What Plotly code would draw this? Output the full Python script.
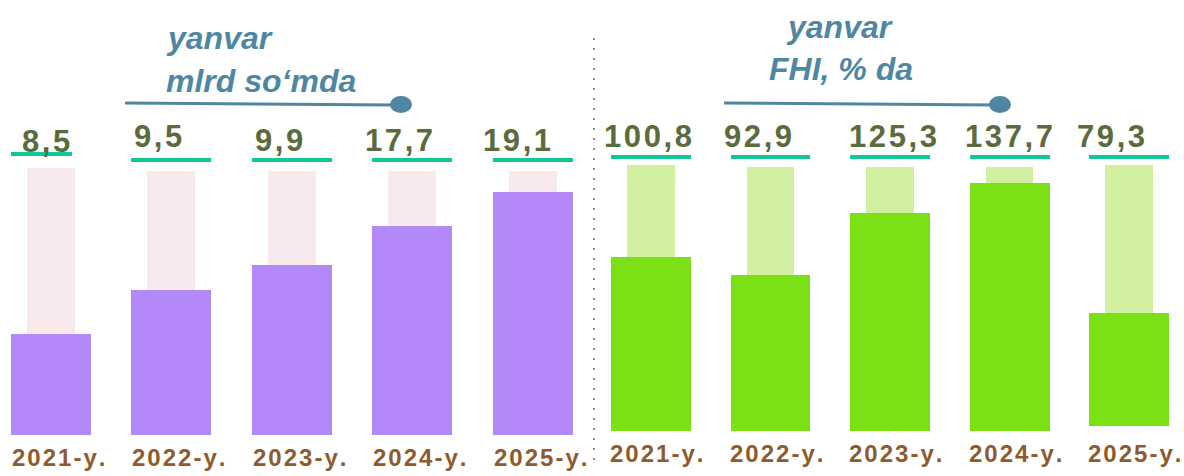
import plotly.graph_objects as go

# ---- data ----
years = ["2021-y.", "2022-y.", "2023-y.", "2024-y.", "2025-y."]

# left panel: yanvar, mlrd so'mda
sum_values = [8.5, 9.5, 9.9, 17.7, 19.1]
sum_bar_level = [38.3, 54.9, 64.4, 79.2, 92.0]      # drawn bar height (index, bg = 100)
sum_bg_level = [101.1, 100, 100, 100, 100]

# right panel: yanvar, FHI, % da
gdp_values = [100.8, 92.9, 125.3, 137.7, 79.3]
gdp_bar_level = [65.9, 59.1, 82.6, 93.9, 42.8]
gdp_bar_base = [0, 0, 0, 0, 1.9]
gdp_bg_level = [100.8, 100, 100, 100, 98.9]

# ---- style ----
W, H = 1184, 476
PURPLE = "#B388F8"
PINK = "#F7E9EC"
GREEN = "#7BE015"
LIGHT_GREEN = "#D0EFA0"
TEAL = "#0FC896"
OLIVE = "#5C6B3C"
BROWN = "#8F5A2E"
STEEL = "#4F87A2"
FONT = "Liberation Sans, Arial, sans-serif"


def fmt(v):
    return f"{v:.1f}".replace(".", ",")


def spaced(s):
    # a little letter spacing, like the original
    return "\u200a".join(s)


def px_x(p):
    return p / W


def px_y(p):
    return 1 - p / H


fig = go.Figure()

# left panel bars
fig.add_trace(go.Bar(x=years, y=sum_bg_level, width=0.40, marker_color=PINK,
                     xaxis="x", yaxis="y", hoverinfo="skip"))
fig.add_trace(go.Bar(x=years, y=sum_bar_level, width=0.664, marker_color=PURPLE,
                     xaxis="x", yaxis="y", customdata=sum_values,
                     hovertemplate="%{x}: %{customdata}<extra></extra>"))
fig.add_trace(go.Bar(x=years, y=[1.5] * 5, base=[105.7, 103.4, 103.4, 103.4, 103.4],
                     width=[0.506, 0.664, 0.664, 0.664, 0.664], offset=-0.332,
                     marker_color=TEAL, xaxis="x", yaxis="y", hoverinfo="skip"))

# right panel bars
fig.add_trace(go.Bar(x=years, y=gdp_bg_level, base=gdp_bar_base, width=0.40,
                     marker_color=LIGHT_GREEN, xaxis="x2", yaxis="y2", hoverinfo="skip"))
fig.add_trace(go.Bar(x=years, y=gdp_bar_level, base=gdp_bar_base, width=0.669,
                     marker_color=GREEN, xaxis="x2", yaxis="y2", customdata=gdp_values,
                     hovertemplate="%{x}: %{customdata}<extra></extra>"))
fig.add_trace(go.Bar(x=years, y=[1.5] * 5, base=[103] * 5, width=0.669,
                     marker_color=TEAL, xaxis="x2", yaxis="y2", hoverinfo="skip"))

annotations = []

# value labels
value_font = dict(family=FONT, size=31, color=OLIVE, weight="bold")
left_shift = [-5, -13, -13, -13, -16]
left_ly = [111.3, 113.2, 111.7, 111.7, 111.7]
for yr, v, dx, ly in zip(years, sum_values, left_shift, left_ly):
    annotations.append(dict(x=yr, y=ly, xref="x", yref="y", text=spaced(fmt(v)),
                            showarrow=False, xshift=dx, yanchor="middle", font=value_font))
right_shift = [-3, -13, 3, -1, -18]
for yr, v, dx in zip(years, gdp_values, right_shift):
    annotations.append(dict(x=yr, y=111.7, xref="x2", yref="y2", text=spaced(fmt(v)),
                            showarrow=False, xshift=dx, yanchor="middle", font=value_font))

# year labels
year_font = dict(family=FONT, size=24, color=BROWN, weight="bold")
for yr in years:
    annotations.append(dict(x=yr, y=px_y(457), xref="x", yref="paper", text=spaced(yr),
                            showarrow=False, xanchor="left", xshift=-41, yanchor="middle",
                            font=year_font))
    annotations.append(dict(x=yr, y=px_y(453), xref="x2", yref="paper", text=spaced(yr),
                            showarrow=False, xanchor="left", xshift=-43, yanchor="middle",
                            font=year_font))

# titles
title_font = dict(family=FONT, size=32, color=STEEL, weight="bold", style="italic")
annotations += [
    dict(x=px_x(164), y=px_y(38), xref="paper", yref="paper", text="yanvar",
         showarrow=False, xanchor="left", yanchor="middle", font=title_font),
    dict(x=px_x(164), y=px_y(81), xref="paper", yref="paper", text="mlrd so\u2018mda",
         showarrow=False, xanchor="left", yanchor="middle", font=title_font),
    dict(x=px_x(839), y=px_y(27), xref="paper", yref="paper", text="yanvar",
         showarrow=False, xanchor="center", yanchor="middle", font=title_font),
    dict(x=px_x(841), y=px_y(69), xref="paper", yref="paper", text="FHI, % da",
         showarrow=False, xanchor="center", yanchor="middle", font=title_font),
]

shapes = [
    # dotted divider
    dict(type="line", xref="paper", yref="paper", x0=px_x(594), x1=px_x(594),
         y0=px_y(38), y1=px_y(468), line=dict(color="#8A8A8A", width=2, dash="2px,8px")),
    # title underline with a dot at the end
    dict(type="line", xref="paper", yref="paper", x0=px_x(125), x1=px_x(396),
         y0=px_y(103), y1=px_y(105), line=dict(color=STEEL, width=3)),
    dict(type="circle", xref="paper", yref="paper", x0=px_x(390), x1=px_x(412),
         y0=px_y(96), y1=px_y(113), fillcolor=STEEL, line=dict(width=0)),
    dict(type="line", xref="paper", yref="paper", x0=px_x(724), x1=px_x(995),
         y0=px_y(103), y1=px_y(105), line=dict(color=STEEL, width=3)),
    dict(type="circle", xref="paper", yref="paper", x0=px_x(989), x1=px_x(1011),
         y0=px_y(96), y1=px_y(113), fillcolor=STEEL, line=dict(width=0)),
]

hidden = dict(showgrid=False, zeroline=False, showticklabels=False, showline=False,
              ticks="", fixedrange=True)

fig.update_layout(
    width=W, height=H,
    margin=dict(l=0, r=0, t=0, b=0),
    paper_bgcolor="white", plot_bgcolor="rgba(0,0,0,0)",
    barmode="overlay", bargap=0, showlegend=False,
    xaxis=dict(domain=[0, 594 / W], range=[-0.4236, 4.51], anchor="y", **hidden),
    yaxis=dict(domain=[0, 1], range=[-15.53, 164.77], anchor="x", **hidden),
    xaxis2=dict(domain=[594 / W, 1], range=[-0.477, 4.460], anchor="y2", **hidden),
    yaxis2=dict(domain=[0, 1], range=[-17.05, 163.26], anchor="x2", **hidden),
    annotations=annotations,
    shapes=shapes,
)
for tr in fig.data:
    tr.marker.line.width = 0

# page has a default 8px body margin; drop it so the chart sits at the window origin
fig.write_html("out.html", config={"displayModeBar": False},
               post_script="document.body.style.margin='0';"
                           "document.body.style.overflow='hidden';")
